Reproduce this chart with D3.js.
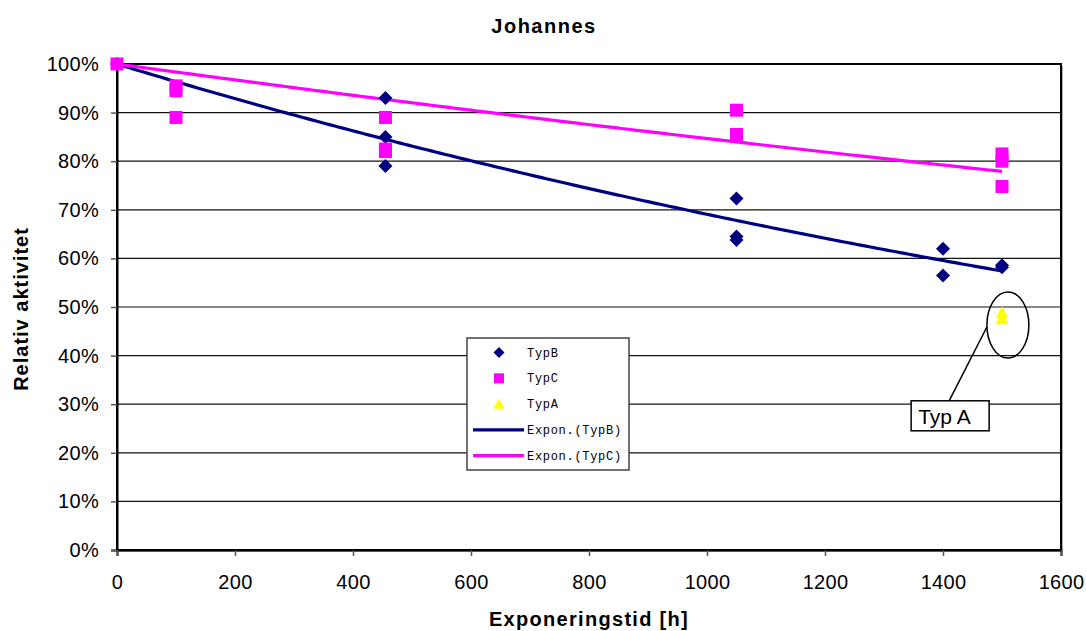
<!DOCTYPE html>
<html>
<head>
<meta charset="utf-8">
<script src="https://cdn.jsdelivr.net/npm/d3@7"></script>
<style>
  html, body { margin: 0; padding: 0; background: #fff; }
  svg { display: block; }
  text { font-family: "Liberation Sans", Arial, sans-serif; fill: #000; }
</style>
</head>
<body>
<svg id="chart" width="1086" height="631"></svg>
<script>
// Measured activity (%) against exposure time (h) for each catalyst type
const typBHours  = [0, 455, 455, 455, 1050, 1050, 1050, 1400, 1400, 1500, 1500];
const typBValues = [100, 93, 85, 79, 72.3, 64.5, 63.8, 62, 56.5, 58.6, 58.2];

const typCHours  = [0, 100, 100, 100, 455, 455, 455, 1050, 1050, 1500, 1500, 1500];
const typCValues = [100, 95.5, 94.5, 89, 89, 82.5, 82, 90.5, 85.5, 81.5, 80, 74.8];

const typAHours  = [1500, 1500];
const typAValues = [48.8, 47.6];

const xTicks = [0, 200, 400, 600, 800, 1000, 1200, 1400, 1600];
const yTicks = [0, 10, 20, 30, 40, 50, 60, 70, 80, 90, 100];

const legendLabels = ["TypB", "TypC", "TypA", "Expon.(TypB)", "Expon.(TypC)"];

const NAVY = "#000080", MAGENTA = "#FF00FF", YELLOW = "#FFFF00";

const svg = d3.select("#chart");
const plot = { left: 117, right: 1061, top: 64, bottom: 550 };

const x = d3.scaleLinear().domain([0, 1600]).range([plot.left, plot.right]);
const y = d3.scaleLinear().domain([0, 100]).range([plot.bottom, plot.top]);

// Exponential trend with the intercept fixed at 100 %: ln(v/100) = b * t
function expFit(hours, values) {
  let sxy = 0, sxx = 0;
  hours.forEach((t, i) => { sxy += t * Math.log(values[i] / 100); sxx += t * t; });
  const b = sxy / sxx;
  const tMax = d3.max(hours);
  return d3.range(0, 201).map(k => {
    const t = tMax * k / 200;
    return [t, 100 * Math.exp(b * t)];
  });
}

// Plot area shadow, background and grid
svg.append("rect")
  .attr("x", plot.left + 2).attr("y", plot.top + 2)
  .attr("width", plot.right - plot.left).attr("height", plot.bottom - plot.top)
  .attr("fill", "#b0b0b0");
svg.append("rect")
  .attr("x", plot.left).attr("y", plot.top)
  .attr("width", plot.right - plot.left).attr("height", plot.bottom - plot.top)
  .attr("fill", "#fff");

svg.append("g").selectAll("line").data(yTicks.filter(v => v > 0 && v < 100)).join("line")
  .attr("x1", plot.left).attr("x2", plot.right)
  .attr("y1", d => y(d)).attr("y2", d => y(d))
  .attr("stroke", "#111").attr("stroke-width", 1.2);

svg.append("rect")
  .attr("x", plot.left).attr("y", plot.top)
  .attr("width", plot.right - plot.left).attr("height", plot.bottom - plot.top)
  .attr("fill", "none").attr("stroke", "#000").attr("stroke-width", 2);

// Axes
const yAxis = svg.append("g")
  .attr("transform", `translate(${plot.left},0)`)
  .call(d3.axisLeft(y).tickValues(yTicks).tickFormat(d => d + "%").tickSize(6).tickPadding(12));
const xAxis = svg.append("g")
  .attr("transform", `translate(0,${plot.bottom})`)
  .call(d3.axisBottom(x).tickValues(xTicks).tickFormat(d3.format("d")).tickSize(6).tickPadding(19));
[yAxis, xAxis].forEach(g => {
  g.select(".domain").attr("stroke", "#000").attr("stroke-width", 2);
  g.selectAll(".tick line").attr("stroke", "#555").attr("stroke-width", 1.5);
  g.selectAll(".tick text")
    .style("font-family", '"Liberation Sans", Arial, sans-serif')
    .style("font-size", "20px").style("letter-spacing", "0.3px").attr("fill", "#000");
});

// Trend lines
const line = d3.line().x(d => x(d[0])).y(d => y(d[1]));
svg.append("path").datum(expFit(typBHours, typBValues))
  .attr("d", line).attr("fill", "none").attr("stroke", NAVY).attr("stroke-width", 3.2);
svg.append("path").datum(expFit(typCHours, typCValues))
  .attr("d", line).attr("fill", "none").attr("stroke", MAGENTA).attr("stroke-width", 3.2);

// Marker shapes
const diamond = (cx, cy, r) => `M${cx},${cy - r}L${cx + r},${cy}L${cx},${cy + r}L${cx - r},${cy}Z`;
const square = (cx, cy, r) => `M${cx - r},${cy - r}h${2 * r}v${2 * r}h${-2 * r}Z`;
const triangle = (cx, cy, r) => `M${cx},${cy - r}L${cx + r},${cy + r * 0.85}L${cx - r},${cy + r * 0.85}Z`;

function markers(hours, values, shape, r, color) {
  svg.append("g").selectAll("path").data(hours.map((t, i) => [t, values[i]])).join("path")
    .attr("d", d => shape(x(d[0]), y(d[1]), r))
    .attr("fill", color);
}
markers(typBHours, typBValues, diamond, 7, NAVY);
markers(typCHours, typCValues, square, 6.5, MAGENTA);
markers(typAHours, typAValues, triangle, 6.5, YELLOW);

// Legend
const lg = svg.append("g").attr("transform", "translate(467,338)");
lg.append("rect").attr("width", 162).attr("height", 132)
  .attr("fill", "#fff").attr("stroke", "#444").attr("stroke-width", 1.5);
const rowY = i => 14.5 + i * 25.8;
lg.append("path").attr("d", diamond(32, rowY(0), 5.5)).attr("fill", NAVY);
lg.append("path").attr("d", square(32, rowY(1), 5)).attr("fill", MAGENTA);
lg.append("path").attr("d", triangle(32, rowY(2), 5.5)).attr("fill", YELLOW);
lg.append("line").attr("x1", 6).attr("x2", 57).attr("y1", rowY(3)).attr("y2", rowY(3))
  .attr("stroke", NAVY).attr("stroke-width", 3.2);
lg.append("line").attr("x1", 6).attr("x2", 57).attr("y1", rowY(4)).attr("y2", rowY(4))
  .attr("stroke", MAGENTA).attr("stroke-width", 3.2);
lg.selectAll("text.lbl").data(legendLabels).join("text").attr("class", "lbl")
  .attr("x", 60).attr("y", (d, i) => rowY(i) + 4)
  .style("font-family", '"Liberation Mono", "Courier New", monospace')
  .style("font-size", "12px").style("letter-spacing", "0.7px")
  .text(d => d);

// Callout for the TypA points
const cx = x(1510), cy = y(46.3);
svg.append("ellipse").attr("cx", cx).attr("cy", cy).attr("rx", 21).attr("ry", 33)
  .attr("fill", "none").attr("stroke", "#000").attr("stroke-width", 1.5);
const boxX = x(1346), boxY = y(30.7);
svg.append("line").attr("x1", cx - 21).attr("y1", cy + 2)
  .attr("x2", boxX + 38).attr("y2", boxY)
  .attr("stroke", "#000").attr("stroke-width", 1.5);
svg.append("rect").attr("x", boxX).attr("y", boxY).attr("width", 78).attr("height", 30)
  .attr("fill", "#fff").attr("stroke", "#000").attr("stroke-width", 1.5);
svg.append("text").attr("x", boxX + 7).attr("y", boxY + 23)
  .style("font-size", "21px").text("Typ A");

// Titles
svg.append("text").attr("x", 544).attr("y", 33).attr("text-anchor", "middle")
  .style("font-size", "20px").style("font-weight", "bold").style("letter-spacing", "1.5px")
  .text("Johannes");
svg.append("text").attr("x", 589).attr("y", 626).attr("text-anchor", "middle")
  .style("font-size", "20px").style("font-weight", "bold").style("letter-spacing", "1.3px")
  .text("Exponeringstid [h]");
svg.append("text").attr("transform", "translate(28,309) rotate(-90)").attr("text-anchor", "middle")
  .style("font-size", "20px").style("font-weight", "bold").style("letter-spacing", "1px")
  .text("Relativ aktivitet");
</script>
</body>
</html>
